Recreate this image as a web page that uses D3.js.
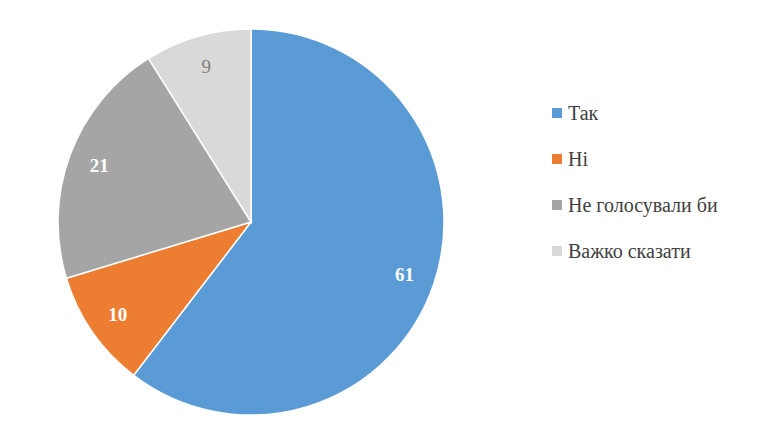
<!DOCTYPE html>
<html><head><meta charset="utf-8">
<script src="https://cdn.jsdelivr.net/npm/d3@7"></script>
<style>body{margin:0;background:#fff}</style></head>
<body><svg id="c" width="780" height="445"></svg>
<script>
const categories = ["Так","Ні","Не голосували би","Важко сказати"];
const values = [61,10,21,9];
const colors = ["#5B9BD5","#ED7D31","#A5A5A5","#D9D9D9"];
const labelColors = ["#fff","#fff","#fff","#7f7f7f"];
const svg = d3.select("#c");
const cx=251, cy=222, R=193;
const pie = d3.pie().sort(null).value(d=>d)(values);
const arc = d3.arc().innerRadius(0).outerRadius(R);
const lab = d3.arc().innerRadius(R*0.84).outerRadius(R*0.84);
const g = svg.append("g").attr("transform",`translate(${cx},${cy})`);
g.selectAll("path").data(pie).join("path").attr("d",arc)
 .attr("fill",(d,i)=>colors[i]).attr("stroke","#fff").attr("stroke-width",1.5);
g.selectAll("text").data(pie).join("text")
 .attr("transform",d=>`translate(${lab.centroid(d)})`)
 .attr("text-anchor","middle").attr("dy","0.35em")
 .attr("font-family","Liberation Serif, Times New Roman, serif")
 .attr("font-size",19).attr("font-weight",(d,i)=>i==3?"normal":"bold")
 .attr("fill",(d,i)=>labelColors[i]).text(d=>d.data);
const lg = svg.append("g");
categories.forEach((c,i)=>{
  const y=113+i*46;
  lg.append("rect").attr("x",552).attr("y",y-5).attr("width",10).attr("height",10).attr("fill",colors[i]);
  lg.append("text").attr("x",568).attr("y",y).attr("dy","0.35em")
   .attr("font-family","Liberation Serif, Times New Roman, serif").attr("font-size",20)
   .attr("fill","#404040").text(c);
});
</script></body></html>
